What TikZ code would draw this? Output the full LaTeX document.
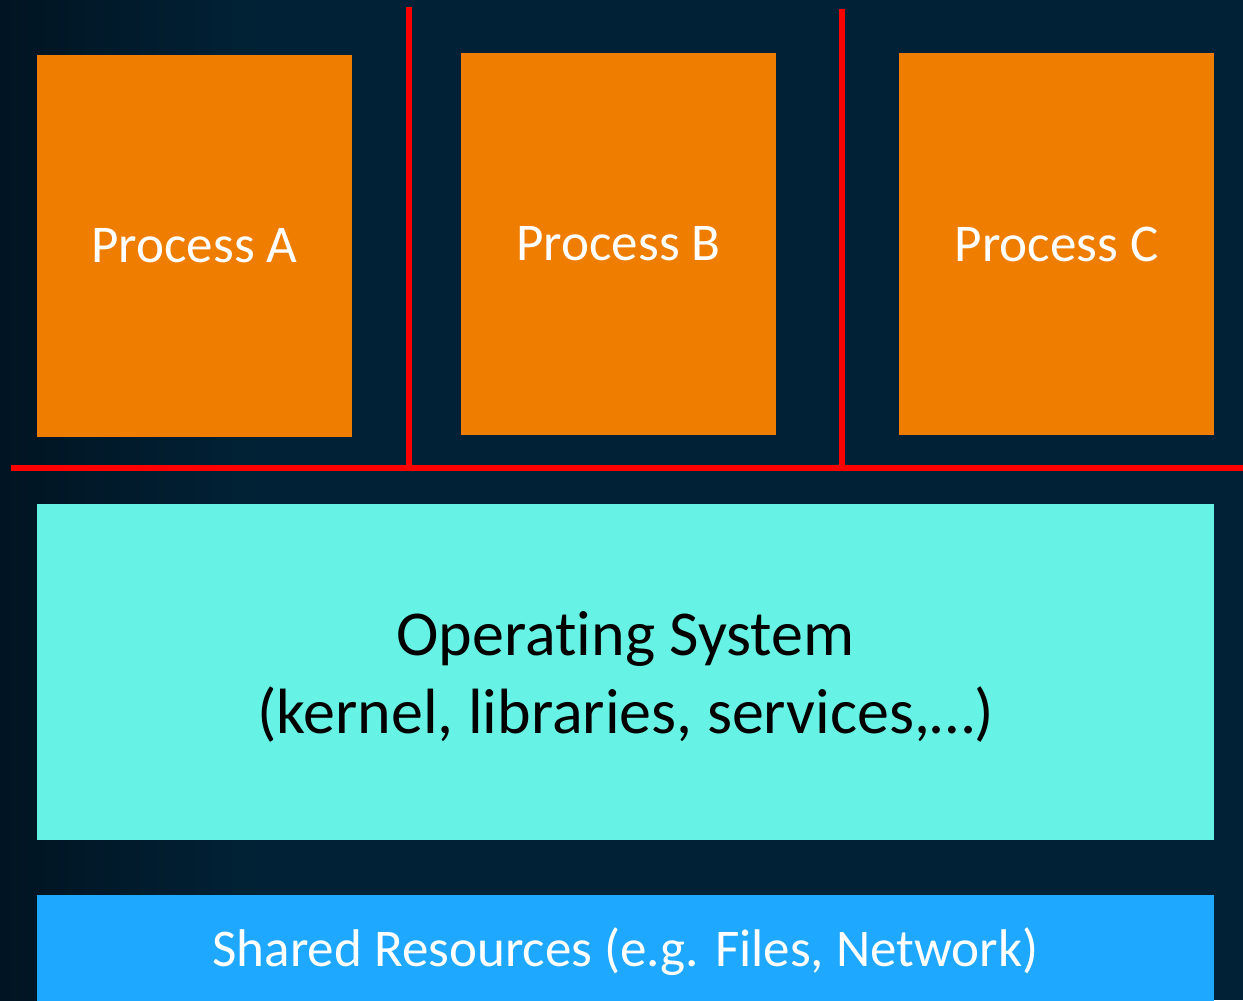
\documentclass[tikz,border=0pt]{standalone}
\usepackage{fontspec}
\setmainfont[Ligatures=NoCommon]{Carlito}

\definecolor{slidebg}{HTML}{012236}
\definecolor{slidedark}{HTML}{011422}
\definecolor{procorange}{HTML}{EF7D00}
\definecolor{oscyan}{HTML}{66F2E4}
\definecolor{resblue}{HTML}{1EA8FF}
\definecolor{sepred}{HTML}{FF0000}

% one unit = one pixel of the slide
\newlength\px
\setlength\px{0.02cm}

\tikzset{
  procbox/.style={fill=procorange, text=white, inner sep=0pt,
    minimum width=315\px, minimum height=382\px, font=\fontsize{30.2}{36}\selectfont},
  osbox/.style={fill=oscyan, inner sep=0pt,
    minimum width=1177\px, minimum height=336\px},
  oslabel/.style={text=black, inner sep=0pt, align=center,
    font=\fontsize{36.4}{44.4}\selectfont},
  resbox/.style={fill=resblue, text=white, inner sep=0pt,
    minimum width=1177\px, minimum height=114\px, font=\fontsize{30.2}{36}\selectfont},
  sepline/.style={draw=sepred, line width=6\px}
}

\begin{document}
\begin{tikzpicture}[x=1\px, y=-1\px]
    \useasboundingbox (0,0) rectangle (1243,1000);
    \clip (0,0) rectangle (1243,1000);

    % background, a little darker on the left
    \fill[slidebg] (0,0) rectangle (1243,1000);
    \shade[left color=slidedark, right color=slidebg] (0,0) rectangle (260,1000);

    % processes
    \node[procbox] (procA) at (194.5,246) {Process A};
    \node[procbox] (procB) at (618.5,244) {Process B};
    \node[procbox] (procC) at (1056.5,244) {Process C};

    % separators
    \draw[sepline] (11,468) -- (1243,468);
    \draw[sepline] (409,7) -- (409,468);
    \draw[sepline] (842,9) -- (842,468);

    % layers below
    \node[osbox] (os) at (625.5,672) {};
    \node[oslabel] (ostext) at ([yshift=-5\px]os.center) {Operating System\\(kernel, libraries, services,…)};
    \node[resbox] (shared) at (625.5,952) {Shared Resources (e.g. Files, Network)};
\end{tikzpicture}
\end{document}
